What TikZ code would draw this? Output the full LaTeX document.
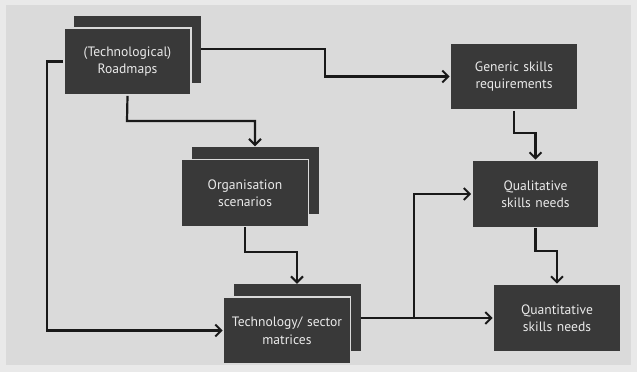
\documentclass[tikz,border=0pt]{standalone}
\usepackage{fontspec}
\setmainfont{PT Sans}
\usepackage{tikz}
\usetikzlibrary{shapes,arrows,arrows.meta,positioning}
\definecolor{boxgrey}{HTML}{393939}
\definecolor{bggrey}{HTML}{DADADA}
\definecolor{rimgrey}{HTML}{E9E9E9}
\definecolor{textgrey}{HTML}{EAEAEA}
\tikzset{skills/.style={rectangle, draw=bggrey, line width=1.6pt, fill=boxgrey, text=textgrey, text width=124pt, align=center,
 minimum width=127pt, minimum height=67pt, inner sep=0pt, font=\fontsize{13.6}{17.5}\selectfont}}
\tikzset{stack/.style={rectangle, fill=boxgrey, minimum width=127pt, minimum height=67pt, inner sep=0pt}}
\tikzset{line/.style={draw=black!90, line width=2.2pt, -{Straight Barb[length=6pt,width=12pt,line width=2pt]}}}

\begin{document}
\begin{tikzpicture}[x=1pt,y=-1pt]
        \fill[rimgrey] (0,0) rectangle (637,372);
        \fill[bggrey] (6,5) rectangle (631,365);
        \useasboundingbox (0,0) rectangle (637,372);

        \node[stack]   (roadB) at (137.5,49) {};
        \node[skills]  (road)  at (127.5,61.5) {(Technological)\\Roadmaps};
        \node[stack]   (orgB)  at (255,180) {};
        \node[skills]  (org)   at (245,193) {Organisation\\scenarios};
        \node[stack]   (techB) at (297,317.5) {};
        \node[skills]  (tech)  at (287,330.5) {Technology/ sector\\matrices};
        \node[skills]  (generic) at (514,76.5) {Generic skills\\requirements};
        \node[skills]  (qual)    at (535.5,194) {Qualitative\\skills needs};
        \node[skills]  (quant)   at (557,318) {Quantitative\\skills needs};
        \coordinate (split) at (414,318);

        \path[line] (roadB.east) -- (325,49) |- (generic.west);
        \path[line] (road.south) -- (127,121) -| (orgB.north);
        \path[line] (road.west) -- (47,61.5) |- (tech.west);
        \path[line] (org.south) -- (245,252) -| (techB.north);
        \path[line] (techB.east |- quant.west) -- (quant.west);
        \path[line] (split) |- (qual.west);
        \path[line] (generic.south) -- (514,133) -| (qual.north);
        \path[line] (qual.south) -- (535.5,251) -| (quant.north);
      \end{tikzpicture}
\end{document}
